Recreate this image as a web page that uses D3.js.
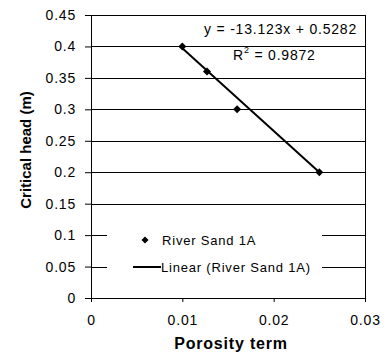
<!DOCTYPE html>
<html lang="en">
<head>
<meta charset="UTF-8">
<title>Critical head vs porosity term</title>
<script src="https://d3js.org/d3.v7.min.js"></script>
<style>
  body { margin: 0; background: #fff; }
  svg text { font-family: "Liberation Sans", Arial, sans-serif; fill: #000; letter-spacing: 0.8px; }
  .grid line { stroke: #000; stroke-width: 1; shape-rendering: crispEdges; }
</style>
</head>
<body>
<div id="chart"></div>
<script>
  // data
  const porosity = [0.01, 0.0127, 0.016, 0.025];
  const head = [0.4, 0.36, 0.3, 0.2];
  const xTicks = [0, 0.01, 0.02, 0.03];
  const yTicks = [0, 0.05, 0.1, 0.15, 0.2, 0.25, 0.3, 0.35, 0.4, 0.45];
  const slope = -13.123, intercept = 0.5282;
  const eqLabel = "y = -13.123x + 0.5282";
  const r2Value = "0.9872";
  const seriesName = "River Sand 1A";

  const W = 386, H = 356;
  const margin = { top: 15, right: 21, bottom: 58, left: 91 };

  const svg = d3.select("#chart").append("svg")
    .attr("width", W).attr("height", H);

  const x = d3.scaleLinear().domain([0, 0.03]).range([margin.left, W - margin.right]);
  const y = d3.scaleLinear().domain([0, 0.45]).range([H - margin.bottom, margin.top]);

  // horizontal gridlines
  svg.append("g").attr("class", "grid")
    .selectAll("line").data(yTicks.filter(d => d > 0)).enter().append("line")
    .attr("x1", x(0)).attr("x2", x(0.03))
    .attr("y1", d => Math.round(y(d)) + 0.5).attr("y2", d => Math.round(y(d)) + 0.5);

  // plot border on right
  svg.append("line")
    .attr("x1", x(0.03)).attr("x2", x(0.03))
    .attr("y1", y(0.45)).attr("y2", y(0))
    .attr("stroke", "#000").attr("shape-rendering", "crispEdges");

  // axes
  const fmt = d => String(+d.toFixed(2));
  const yAxis = svg.append("g")
    .attr("transform", "translate(" + x(0) + ",0)")
    .call(d3.axisLeft(y).tickValues(yTicks).tickSize(6).tickPadding(9).tickFormat(fmt));
  const xAxis = svg.append("g")
    .attr("transform", "translate(0," + y(0) + ")")
    .call(d3.axisBottom(x).tickValues(xTicks).tickSize(4).tickPadding(13).tickFormat(fmt));
  [xAxis, yAxis].forEach(a => {
    a.select(".domain").attr("stroke", "#000").attr("shape-rendering", "crispEdges");
    a.selectAll(".tick line").attr("stroke", "#000");
    a.selectAll("text").attr("font-size", 14)
      .style("font-family", "Liberation Sans, Arial, sans-serif");
  });

  // trendline
  const xs = d3.extent(porosity);
  svg.append("line")
    .attr("x1", x(xs[0])).attr("y1", y(slope * xs[0] + intercept))
    .attr("x2", x(xs[1])).attr("y2", y(slope * xs[1] + intercept))
    .attr("stroke", "#000").attr("stroke-width", 2);

  // data markers (square turned 45 degrees)
  const diamond = "M0,-4L4,0L0,4L-4,0Z";
  svg.selectAll(".pt").data(porosity).enter().append("path")
    .attr("class", "pt")
    .attr("d", diamond)
    .attr("transform", (d, i) => "translate(" + x(d) + "," + y(head[i]) + ")")
    .attr("fill", "#000");

  // equation label
  svg.append("text").attr("x", 357).attr("y", 34).attr("text-anchor", "end")
    .attr("font-size", 14).text(eqLabel);
  const r2 = svg.append("text").attr("x", 233).attr("y", 60).attr("font-size", 14);
  r2.append("tspan").text("R");
  r2.append("tspan").attr("font-size", 9).attr("dy", -7).text("2");
  r2.append("tspan").attr("dy", 7).text(" = " + r2Value);

  // legend
  const lg = svg.append("g");
  lg.append("rect").attr("x", 107).attr("y", 222).attr("width", 215).attr("height", 62)
    .attr("fill", "#fff");
  lg.append("path").attr("d", "M0,-3.5L3.5,0L0,3.5L-3.5,0Z")
    .attr("transform", "translate(145,240)").attr("fill", "#000");
  lg.append("text").attr("x", 162).attr("y", 245).attr("font-size", 13).text(seriesName);
  lg.append("line").attr("x1", 133).attr("x2", 161).attr("y1", 267).attr("y2", 267)
    .attr("stroke", "#000").attr("stroke-width", 2);
  lg.append("text").attr("x", 161).attr("y", 272).attr("font-size", 13)
    .text("Linear (" + seriesName + ")");

  // axis titles
  svg.append("text")
    .attr("x", 231).attr("y", 349).attr("text-anchor", "middle")
    .attr("font-size", 16).attr("font-weight", "bold").text("Porosity term");
  svg.append("text")
    .attr("transform", "translate(31,150) rotate(-90)")
    .attr("text-anchor", "middle").style("letter-spacing", "0px")
    .attr("font-size", 15).attr("font-weight", "bold").text("Critical head (m)");
</script>
</body>
</html>
